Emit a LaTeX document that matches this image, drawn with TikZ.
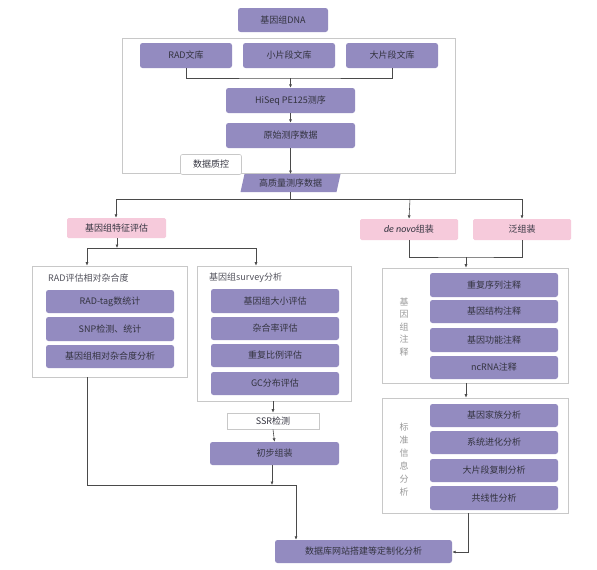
\documentclass[tikz,border=0pt]{standalone}
\usepackage{fontspec}
\setmainfont{Noto Sans CJK SC}
\newfontfamily\latinit{Carlito}
\usetikzlibrary{arrows.meta}
\definecolor{pur}{HTML}{938BC0}
\definecolor{pnk}{HTML}{F6CADB}
\definecolor{txt}{HTML}{33333F}
\definecolor{frm}{HTML}{C8C8C8}
\definecolor{lnc}{HTML}{4A4A4A}
\tikzset{
  pbox/.style={fill=pur, draw=none, rounded corners=2.5pt, text=txt, font=\fontsize{9}{11}\selectfont, inner sep=0pt},
  kbox/.style={fill=pnk, draw=none, rounded corners=1.5pt, text=txt, font=\fontsize{9}{11}\selectfont, inner sep=0pt},
  frame/.style={draw=frm, fill=white, line width=0.6pt, inner sep=0pt},
  wbox/.style={draw=frm, fill=white, line width=0.6pt, text=txt, font=\fontsize{9}{11}\selectfont, inner sep=0pt},
  ttl/.style={text=txt!85, font=\fontsize{9}{11}\selectfont, inner sep=0pt, anchor=west},
  vlab/.style={text=gray!80, font=\fontsize{9}{12.5}\selectfont, inner sep=0pt, align=center},
  conn/.style={draw=lnc, line width=0.6pt},
  arr/.style={conn, -{Latex[length=3.5pt,width=3pt]}},
}
\newcommand{\bx}[5]{\node[#1, minimum width=#4-#2, minimum height=#5-#3] at ({(#2+#4)/2},{(#3+#5)/2})}
\begin{document}
\begin{tikzpicture}[x=1pt,y=-1pt]
\useasboundingbox (0,0) rectangle (597,570);
\fill[white] (0,0) rectangle (597,570);

% top section
\bx{pbox}{238}{8}{328}{32} (dna) {基因组DNA};
\bx{frame}{122}{38}{455}{173} (seqframe) {};
\bx{pbox}{140}{43}{232}{68} (rad) {RAD文库};
\bx{pbox}{243}{43}{335}{68} (small) {小片段文库};
\bx{pbox}{346}{43}{438}{68} (large) {大片段文库};
\bx{pbox}{226}{88}{355}{113} (hiseq) {HiSeq PE125测序};
\bx{pbox}{226}{123}{355}{148} (raw) {原始测序数据};
\coordinate (bj) at (290.5,78);
\draw[conn] (rad.south) |- (bj) -| (large.south);
\draw[arr] (bj) -- (hiseq.north);
\draw[arr] (hiseq.south) -- (raw.north);

\node[wbox, rounded corners=2pt, minimum width=61, minimum height=20] (qc) at (211,164.5) {数据质控};
\path[fill=pur] (244.5,174) -- (340.5,174) -- (336.5,192) -- (240.5,192) -- cycle;
\node[text=txt, font=\fontsize{9}{11}\selectfont, inner sep=0pt] (hq) at (290.5,183) {高质量测序数据};
\coordinate (hqtop) at (290.5,174);
\coordinate (hqbot) at (290.5,192);
\draw[arr] (raw.south) -- (hqtop);

% distribution line
\coordinate (hl) at (116,199);
\coordinate (hr) at (522,199);
\coordinate (hm) at (410,199);
\draw[conn] (hqbot) -- (hqbot|-hl);
\draw[conn] (hl) -- (hr);

\bx{kbox}{67}{218}{166}{238} (feat) {基因组特征评估};
\bx{kbox}{360}{219}{458}{240} (denovo) {{\latinit\itshape\fontsize{10}{11}\selectfont de novo}组装};
\bx{kbox}{473}{219}{571}{240} (pan) {泛组装};
\draw[arr] (hl) -- (hl|-feat.north);
\draw[arr] (hm) -- (denovo.north);
\draw[arr] (hr) -- (hr|-pan.north);

% left branch
\coordinate (fj) at (117,248);
\coordinate (fl) at (87,248);
\coordinate (fr) at (256,248);
\draw[arr] (feat.south-|fj) -- (fj);
\draw[conn] (fl) -- (fr);

\bx{frame}{32}{266}{187}{377} (radf) {};
\node[ttl] (radt) at (48,278) {RAD评估相对杂合度};
\bx{pbox}{46}{290}{174}{313} (r1) {RAD-tag数统计};
\bx{pbox}{46}{317}{174}{341} (r2) {SNP检测、统计};
\bx{pbox}{46}{345}{174}{368} (r3) {基因组相对杂合度分析};

\bx{frame}{197}{266}{351}{401} (svf) {};
\node[ttl] (svt) at (209,278) {基因组survey分析};
\bx{pbox}{211}{289}{339}{313} (s1) {基因组大小评估};
\bx{pbox}{211}{317}{339}{340} (s2) {杂合率评估};
\bx{pbox}{211}{344}{339}{367} (s3) {重复比例评估};
\bx{pbox}{211}{372}{339}{395} (s4) {GC分布评估};

\draw[arr] (fl) -- (fl|-radf.north);
\draw[arr] (fr) -- (fr|-svf.north);

\bx{wbox}{227}{413}{319}{429} (ssr) {SSR检测};
\bx{pbox}{210}{442}{339}{465} (init) {初步组装};
\draw[arr] (svf.south-|ssr.north) -- (ssr.north);
\draw[arr] (ssr.south) -- (init.north);

\coordinate (ll) at (87,485);
\coordinate (lr) at (296,485);
\coordinate (lm) at (272,485);
\draw[arr] (init.south-|lm) -- (lm);
\draw[conn] (radf.south-|ll) -- (ll) -- (lr);

\bx{pbox}{275}{540}{452}{563} (db) {数据库网站搭建等定制化分析};
\draw[arr] (lr) -- (lr|-db.north);

% right branch
\coordinate (dj) at (466,257);
\draw[conn] (denovo.south) |- (dj) -| (pan.south);

\bx{frame}{382}{268}{568}{383} (annf) {};
\node[vlab] (annl) at (404,327) {基\\因\\组\\注\\释};
\bx{pbox}{430}{273}{558}{297} (a1) {重复序列注释};
\bx{pbox}{430}{300}{558}{323} (a2) {基因结构注释};
\bx{pbox}{430}{328}{558}{352} (a3) {基因功能注释};
\bx{pbox}{430}{356}{558}{379} (a4) {ncRNA注释};
\draw[arr] (dj) -- (dj|-annf.north);

\bx{frame}{382}{398}{568}{513} (stdf) {};
\node[vlab, font=\fontsize{9}{13}\selectfont] (stdl) at (404,460) {标\\准\\信\\息\\分\\析};
\bx{pbox}{430}{404}{558}{427} (b1) {基因家族分析};
\bx{pbox}{430}{431}{558}{454} (b2) {系统进化分析};
\bx{pbox}{430}{459}{558}{482} (b3) {大片段复制分析};
\bx{pbox}{430}{486}{558}{510} (b4) {共线性分析};
\draw[arr] (annf.south-|dj) -- (dj|-stdf.north);

\coordinate (rc) at (468,552);
\draw[arr] (stdf.south-|rc) -- (rc) -- (db.east|-rc);
\end{tikzpicture}
\end{document}
